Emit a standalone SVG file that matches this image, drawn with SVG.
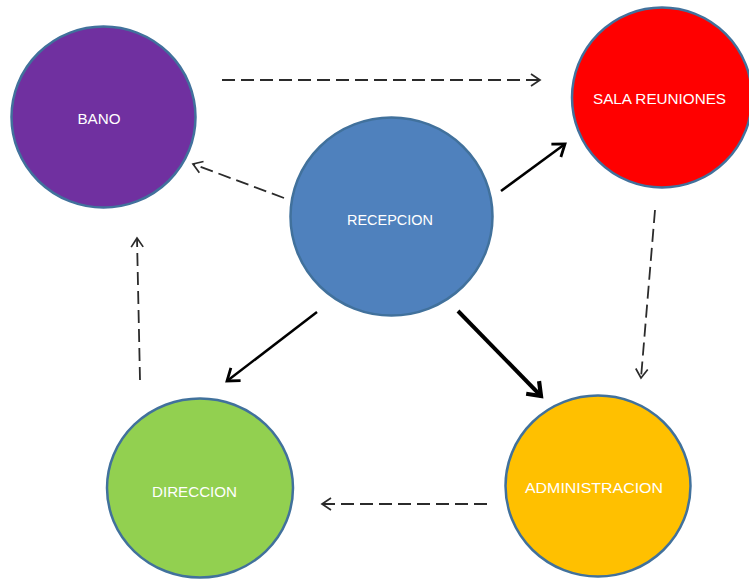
<svg xmlns="http://www.w3.org/2000/svg" width="749" height="580" viewBox="0 0 749 580">
<style>
.node{stroke:#41719C;stroke-width:2.5}
.lbl{font-family:"Liberation Sans",Arial,sans-serif;font-size:15px;fill:#ffffff;text-anchor:middle;dominant-baseline:central}
.dash{stroke:#2b2b2b;stroke-width:1.8;fill:none;stroke-dasharray:13 6;marker-end:url(#openS)}
.solid{stroke:#000000;stroke-width:2.5;fill:none;marker-end:url(#openM)}
.thick{stroke:#000000;stroke-width:4;fill:none;marker-end:url(#openL)}
</style>
<defs>
<marker id="openS" markerUnits="userSpaceOnUse" markerWidth="14" markerHeight="16" refX="10" refY="7" orient="auto" overflow="visible">
<path d="M1,1 L10,7 L1,13" fill="none" stroke="#2b2b2b" stroke-width="1.7"/>
</marker>
<marker id="openM" markerUnits="userSpaceOnUse" markerWidth="18" markerHeight="20" refX="12" refY="9" orient="auto" overflow="visible">
<path d="M1,1 L12,9 L1,17" fill="none" stroke="#000000" stroke-width="2.8"/>
</marker>
<marker id="openL" markerUnits="userSpaceOnUse" markerWidth="20" markerHeight="22" refX="13" refY="10" orient="auto" overflow="visible">
<path d="M1,1 L13,10 L1,19" fill="none" stroke="#000000" stroke-width="4.2"/>
</marker>
</defs>
<rect width="749" height="580" fill="#ffffff"/>
<g id="connectors">
<line class="dash" x1="222" y1="80" x2="540" y2="80"/>
<line class="dash" x1="284" y1="198" x2="193" y2="164"/>
<line class="solid" x1="501" y1="191" x2="565" y2="144"/>
<line class="dash" x1="655" y1="210" x2="641" y2="378"/>
<line class="thick" x1="458" y1="311" x2="541" y2="396"/>
<line class="solid" x1="317" y1="312" x2="227" y2="381"/>
<line class="dash" x1="487" y1="504" x2="322" y2="504"/>
<line class="dash" x1="140" y1="380" x2="137" y2="238"/>
</g>
<g id="bano">
<ellipse class="node" cx="103.5" cy="117" rx="92" ry="90.5" fill="#7030A0"/>
<text class="lbl" x="99" y="118" textLength="43" lengthAdjust="spacingAndGlyphs">BANO</text>
</g>
<g id="sala">
<ellipse class="node" cx="662" cy="97.5" rx="90" ry="90" fill="#FF0000"/>
<text class="lbl" x="659.5" y="98" textLength="133" lengthAdjust="spacingAndGlyphs">SALA REUNIONES</text>
</g>
<g id="recepcion">
<ellipse class="node" cx="391.5" cy="216.5" rx="101" ry="99" fill="#4F81BD"/>
<text class="lbl" x="390" y="219" textLength="86" lengthAdjust="spacingAndGlyphs">RECEPCION</text>
</g>
<g id="direccion">
<ellipse class="node" cx="200" cy="488" rx="93" ry="89.5" fill="#92D050"/>
<text class="lbl" x="194.5" y="491" textLength="85" lengthAdjust="spacingAndGlyphs">DIRECCION</text>
</g>
<g id="administracion">
<ellipse class="node" cx="598" cy="486" rx="92.5" ry="90.5" fill="#FFC000"/>
<text class="lbl" x="594" y="487" textLength="138" lengthAdjust="spacingAndGlyphs">ADMINISTRACION</text>
</g>
</svg>
